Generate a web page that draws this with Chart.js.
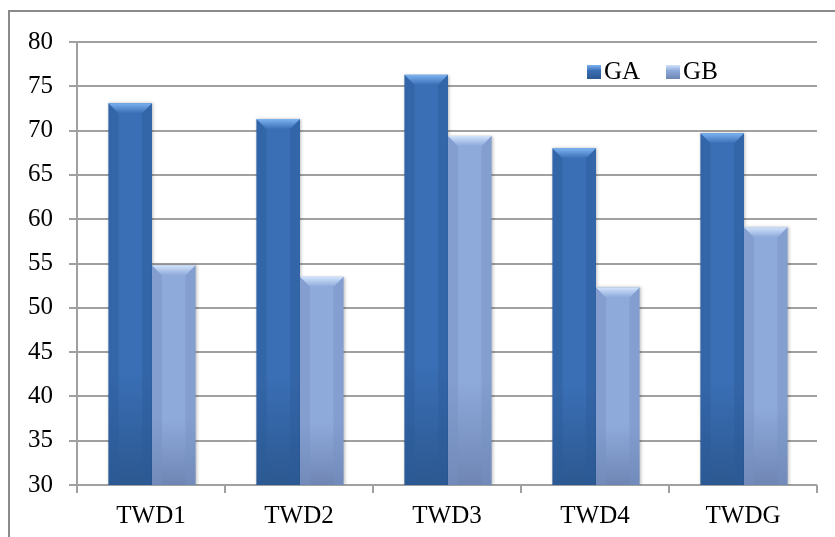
<!DOCTYPE html>
<html>
<head>
<meta charset="utf-8">
<script src="https://cdn.jsdelivr.net/npm/chart.js@4.4.1/dist/chart.umd.min.js"></script>
<style>
  html, body { margin: 0; padding: 0; background: #fff; }
  #wrap { position: relative; width: 835px; height: 537px; overflow: hidden; }
  #frame { position: absolute; left: 8px; top: 10px; width: 900px; height: 600px; border: 2px solid #8a8a8a; }
  canvas { position: absolute; left: 0; top: 0; }
  #legend { position: absolute; left: 587px; top: 57px; font-family: "Liberation Serif", "Times New Roman", serif; font-size: 25px; color: #000; white-space: nowrap; }
  #legend span.item { display: inline-block; margin-right: 26px; }
  #legend i { display: inline-block; width: 14px; height: 14px; margin-right: 3px; vertical-align: 0px; }
</style>
</head>
<body>
<div id="wrap">
  <div id="frame"></div>
  <canvas id="chart" width="835" height="537"></canvas>
  <div id="legend"></div>
</div>
<script>
// Data
const categories = ["TWD1", "TWD2", "TWD3", "TWD4", "TWDG"];
const seriesNames = ["GA", "GB"];
const gaValues = [73.1, 71.3, 76.3, 68.0, 69.7];
const gbValues = [54.8, 53.5, 69.4, 52.3, 59.1];
const yTicks = [30, 35, 40, 45, 50, 55, 60, 65, 70, 75, 80];

// bevel colours per series: body, top face, side, bottom
const shades = [
  { body: "#3a6fb6", top: "#7db2f2", side: "#2c5a98", dark: "#2c5890" },
  { body: "#8eaadb", top: "#d2e3fb", side: "#7690c2", dark: "#6f86b4" }
];

// repaint each bar as a bevelled column
const bevelBars = {
  id: "bevelBars",
  afterDatasetsDraw(chart) {
    const ctx = chart.ctx;
    const area = chart.chartArea;
    chart.data.datasets.forEach((ds, i) => {
      const meta = chart.getDatasetMeta(i);
      const c = shades[i];
      meta.data.forEach(bar => {
        const x0 = bar.x - bar.width / 2 + 1, x1 = bar.x + bar.width / 2 + 1;
        const top = bar.y, bottom = Math.min(bar.base, area.bottom);
        const b = 10;
        ctx.save();
        ctx.beginPath();
        ctx.rect(area.left, area.top - 2, area.right - area.left, area.bottom - area.top + 2);
        ctx.clip();
        ctx.save();
        ctx.shadowColor = "rgba(0,0,0,0.25)";
        ctx.shadowBlur = 3;
        ctx.shadowOffsetX = 1;
        const g = ctx.createLinearGradient(0, top, 0, bottom);
        g.addColorStop(0, c.body);
        g.addColorStop(0.7, c.body);
        g.addColorStop(1, c.dark);
        ctx.fillStyle = g;
        ctx.fillRect(x0, top, x1 - x0, bottom - top);
        ctx.restore();
        // side faces
        ctx.fillStyle = c.side;
        ctx.globalAlpha = 0.45;
        ctx.beginPath();
        ctx.moveTo(x0, top); ctx.lineTo(x0 + b, top + b); ctx.lineTo(x0 + b, bottom); ctx.lineTo(x0, bottom);
        ctx.fill();
        ctx.beginPath();
        ctx.moveTo(x1, top); ctx.lineTo(x1 - b, top + b); ctx.lineTo(x1 - b, bottom); ctx.lineTo(x1, bottom);
        ctx.fill();
        ctx.globalAlpha = 1;
        // top face
        const tg = ctx.createLinearGradient(0, top, 0, top + b);
        tg.addColorStop(0, c.top);
        tg.addColorStop(1, c.body);
        ctx.fillStyle = tg;
        ctx.beginPath();
        ctx.moveTo(x0, top); ctx.lineTo(x1, top); ctx.lineTo(x1 - b, top + b); ctx.lineTo(x0 + b, top + b);
        ctx.closePath();
        ctx.fill();
        ctx.restore();
      });
    });
  }
};

const font = { family: "'Liberation Serif', 'Times New Roman', serif", size: 25 };

new Chart(document.getElementById("chart"), {
  type: "bar",
  data: {
    labels: categories,
    datasets: [
      { label: seriesNames[0], data: gaValues, backgroundColor: "rgba(0,0,0,0)" },
      { label: seriesNames[1], data: gbValues, backgroundColor: "rgba(0,0,0,0)" }
    ]
  },
  options: {
    responsive: false,
    animation: false,
    datasets: { bar: { categoryPercentage: 0.588, barPercentage: 1 } },
    layout: { padding: { top: 42, right: 18, left: 0, bottom: 0 } },
    plugins: { legend: { display: false }, tooltip: { enabled: false } },
    scales: {
      x: {
        grid: { drawOnChartArea: false, drawTicks: true, tickLength: 8, color: "#a0a0a0", lineWidth: 2 },
        border: { display: false },
        ticks: { color: "#000", font: font, padding: 8 },
        afterFit(scale) { scale.height = 52; }
      },
      y: {
        min: 30,
        max: 80,
        afterBuildTicks(scale) { scale.ticks = yTicks.map(v => ({ value: v })); },
        grid: { color: "#a0a0a0", lineWidth: 2, tickLength: 8 },
        border: { color: "#a0a0a0", width: 2 },
        ticks: { color: "#000", font: font, padding: 16 },
        afterFit(scale) { scale.width = 77; }
      }
    }
  },
  plugins: [bevelBars]
});

// legend
const legendColors = [
  "linear-gradient(#7db2f2, #3a6fb6 40%, #2c5890)",
  "linear-gradient(#d2e3fb, #8eaadb 40%, #6f86b4)"
];
document.getElementById("legend").innerHTML = seriesNames
  .map((n, i) => `<span class="item"><i style="background:${legendColors[i]}"></i>${n}</span>`)
  .join("");
</script>
</body>
</html>
